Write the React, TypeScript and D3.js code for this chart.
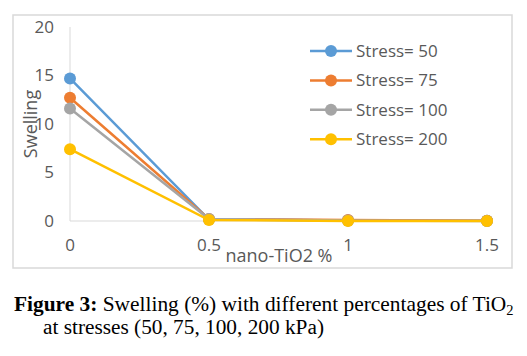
import React from "react";
import * as d3 from "d3";

const xValues = [0, 0.5, 1, 1.5];
const xTicks = ["0", "0.5", "1", "1.5"];
const yTicks = [0, 5, 10, 15, 20];
const seriesNames = ["Stress= 50", "Stress= 75", "Stress= 100", "Stress= 200"];
const stress50 = [14.7, 0.15, 0.05, 0.02];
const stress75 = [12.7, 0.2, 0.1, 0.02];
const stress100 = [11.6, 0.2, 0.05, 0];
const stress200 = [7.4, 0.1, 0, 0];
const colors = ["#5b9bd5", "#ed7d31", "#a5a5a5", "#ffc000"];

export default function App() {
  const W = 527, H = 356;
  const x = d3.scaleLinear().domain([0, 1.5]).range([70, 487]);
  const y = d3.scaleLinear().domain([0, 20]).range([221, 27]);
  const series = [stress50, stress75, stress100, stress200];
  const line = d3.line<number>().x((_, i) => x(xValues[i])).y((d) => y(d));
  const font = "'Open Sans', 'Noto Sans', sans-serif";
  const tc = "#595959";
  const fs = 17;
  return (
    <svg width={W} height={H} style={{ position: "absolute", left: 0, top: 0, background: "#fff" }}>
      <rect x={13} y={15} width={499} height={253} fill="#fff" stroke="#d9d9d9" strokeWidth={1.5} />
      <line x1={x(0)} x2={x(0)} y1={y(20)} y2={y(0)} stroke="#d9d9d9" strokeWidth={1} />
      <line x1={x(0)} x2={x(1.5)} y1={y(0)} y2={y(0)} stroke="#d9d9d9" strokeWidth={1} />
      {yTicks.map((t) => (
        <text key={t} x={54} y={y(t)} dy="0.35em" textAnchor="end" fontFamily={font} fontSize={fs} fill={tc}>
          {t}
        </text>
      ))}
      {xValues.map((v, i) => (
        <text key={v} x={x(v)} y={245} dy="0.35em" textAnchor="middle" fontFamily={font} fontSize={fs} fill={tc}>
          {xTicks[i]}
        </text>
      ))}
      <text x={279} y={256} dy="0.35em" textAnchor="middle" fontFamily={font} fontSize={18} fill={tc}>
        nano-TiO2 %
      </text>
      <text transform={`translate(31,124) rotate(-90)`} textAnchor="middle" dy="0.35em" fontFamily={font} fontSize={18} fill={tc}>
        Swelling
      </text>
      {series.map((s, k) => (
        <g key={k}>
          <path d={line(s) || ""} fill="none" stroke={colors[k]} strokeWidth={2.5} />
          {s.map((v, i) => (
            <circle key={i} cx={x(xValues[i])} cy={y(v)} r={6} fill={colors[k]} />
          ))}
        </g>
      ))}
      {seriesNames.map((n, k) => {
        const ly = 51 + k * 29.4;
        return (
          <g key={n}>
            <line x1={310} x2={352} y1={ly} y2={ly} stroke={colors[k]} strokeWidth={2.5} />
            <circle cx={331} cy={ly} r={6} fill={colors[k]} />
            <text x={356} y={ly} dy="0.35em" fontFamily={font} fontSize={fs} fill={tc}>
              {n}
            </text>
          </g>
        );
      })}
      <text x={14} y={311} fontFamily="'Liberation Serif', serif" fontSize={21.4} fill="#000">
        <tspan fontWeight="bold">Figure 3:</tspan>
        <tspan> Swelling (%) with different percentages of TiO</tspan>
        <tspan fontSize={14.5} dy={4}>2</tspan>
      </text>
      <text x={43} y={334} fontFamily="'Liberation Serif', serif" fontSize={21.3} fill="#000">
        at stresses (50, 75, 100, 200 kPa)
      </text>
    </svg>
  );
}
